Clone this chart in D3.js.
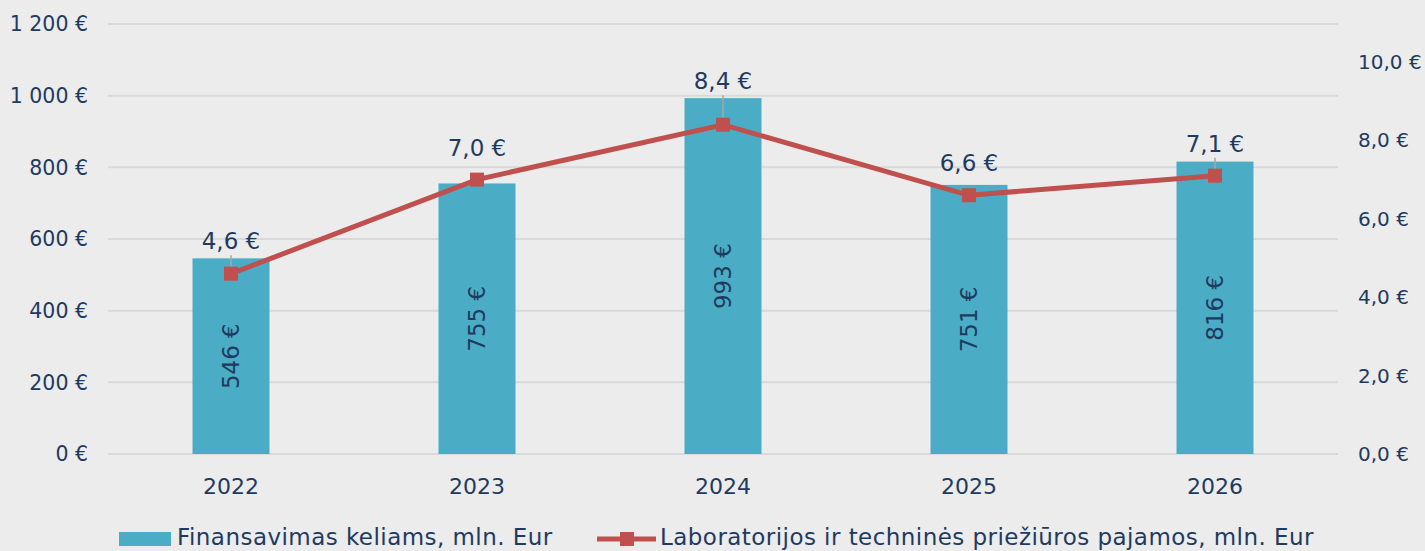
<!DOCTYPE html>
<html><head><meta charset="utf-8">
<script src="https://cdn.jsdelivr.net/npm/d3@7"></script>
<style>
html,body{margin:0;padding:0;background:#ececec;}
svg{display:block;font-family:"DejaVu Sans",sans-serif;}
</style></head>
<body><svg id="c" width="1425" height="551"></svg>
<script>
const years = ["2022","2023","2024","2025","2026"];
const funding = [546, 755, 993, 751, 816];
const revenue = [4.6, 7.0, 8.4, 6.6, 7.1];
const leftTicks = [0,200,400,600,800,1000,1200];
const rightTicks = [0,2,4,6,8,10];
const leaderYears = ["2022","2024","2026"];
const seriesNames = ["Finansavimas keliams, mln. Eur","Laboratorijos ir techninės priežiūros pajamos, mln. Eur"];

const txt = "#1f3a5f", barCol = "#4bacc6", lineCol = "#c0504d", gridCol = "#d9d9d9";
const svg = d3.select("#c");
const L = 108, R = 1338, T = 24, B = 454;
const x = d3.scaleBand().domain(years).range([L,R]).paddingInner(0.687).paddingOuter(0.3435);
const yL = d3.scaleLinear().domain([0,1200]).range([B,T]);
const yR = d3.scaleLinear().domain([0, 10*(B-T)/(B-62)]).range([B,T]);

const fmtL = d => (d>=1000 ? d3.format(",")(d).replace(",", " ") : d) + " €";
const fmtR = d => d.toFixed(1).replace(".", ",") + " €";

// grid
svg.append("g").selectAll("line").data(leftTicks).join("line")
  .attr("x1",L).attr("x2",R).attr("y1",d=>yL(d)).attr("y2",d=>yL(d))
  .attr("stroke",gridCol).attr("stroke-width",2);

// left axis labels
svg.append("g").selectAll("text").data(leftTicks).join("text")
  .attr("x",88).attr("y",d=>yL(d)).attr("dy","0.35em").attr("text-anchor","end")
  .attr("font-size",20.5).attr("fill",txt).text(fmtL);
// right labels
svg.append("g").selectAll("text").data(rightTicks).join("text")
  .attr("x",1358).attr("y",d=>yR(d)).attr("dy","0.35em").attr("text-anchor","start")
  .attr("font-size",20).attr("fill",txt).text(fmtR);
// x labels
svg.append("g").selectAll("text").data(years).join("text")
  .attr("x",d=>x(d)+x.bandwidth()/2).attr("y",486).attr("dy","0.35em").attr("text-anchor","middle")
  .attr("font-size",22).attr("fill",txt).text(d=>d);

// bars
svg.append("g").selectAll("rect").data(funding).join("rect")
  .attr("x",(d,i)=>x(years[i])).attr("width",x.bandwidth())
  .attr("y",d=>yL(d)).attr("height",d=>B-yL(d)).attr("fill",barCol);

// bar labels (rotated)
svg.append("g").selectAll("text").data(funding).join("text")
  .attr("transform",(d,i)=>`translate(${x(years[i])+x.bandwidth()/2},${(yL(d)+B)/2}) rotate(-90)`)
  .attr("text-anchor","middle").attr("dy","0.35em")
  .attr("font-size",23).attr("fill",txt).text(d=>d+" €");

const cx = i => x(years[i])+x.bandwidth()/2;
const pts = revenue.map((v,i)=>({v, i, year: years[i], lab: Math.min(yR(v)-32, yL(funding[i])-17)}));

// leader lines
svg.append("g").selectAll("line").data(pts.filter(p=>leaderYears.includes(p.year))).join("line")
  .attr("x1",p=>cx(p.i)).attr("x2",p=>cx(p.i))
  .attr("y1",p=>p.lab+14).attr("y2",p=>yR(p.v))
  .attr("stroke","#a6a6a6").attr("stroke-width",1.5);

// line
svg.append("path").datum(revenue)
  .attr("d",d3.line().x((d,i)=>cx(i)).y(d=>yR(d)))
  .attr("fill","none").attr("stroke",lineCol).attr("stroke-width",5);
svg.append("g").selectAll("rect").data(revenue).join("rect")
  .attr("x",(d,i)=>cx(i)-7).attr("y",d=>yR(d)-7).attr("width",14).attr("height",14)
  .attr("fill",lineCol);

// line labels
svg.append("g").selectAll("text").data(pts).join("text")
  .attr("x",p=>cx(p.i)).attr("y",p=>p.lab).attr("dy","0.35em")
  .attr("text-anchor","middle").attr("font-size",23).attr("fill",txt).text(p=>fmtR(p.v));

// legend
const lg = svg.append("g");
lg.append("rect").attr("x",119).attr("y",532).attr("width",52).attr("height",14).attr("fill",barCol);
lg.append("text").attr("x",177).attr("y",537).attr("dy","0.35em").attr("font-size",23).attr("letter-spacing",0.45).attr("fill",txt).text(seriesNames[0]);
lg.append("line").attr("x1",597).attr("x2",656).attr("y1",539).attr("y2",539).attr("stroke",lineCol).attr("stroke-width",5);
lg.append("rect").attr("x",620).attr("y",532).attr("width",14).attr("height",14).attr("fill",lineCol);
lg.append("text").attr("x",660).attr("y",537).attr("dy","0.35em").attr("font-size",23).attr("letter-spacing",0.45).attr("fill",txt).text(seriesNames[1]);
</script></body></html>
